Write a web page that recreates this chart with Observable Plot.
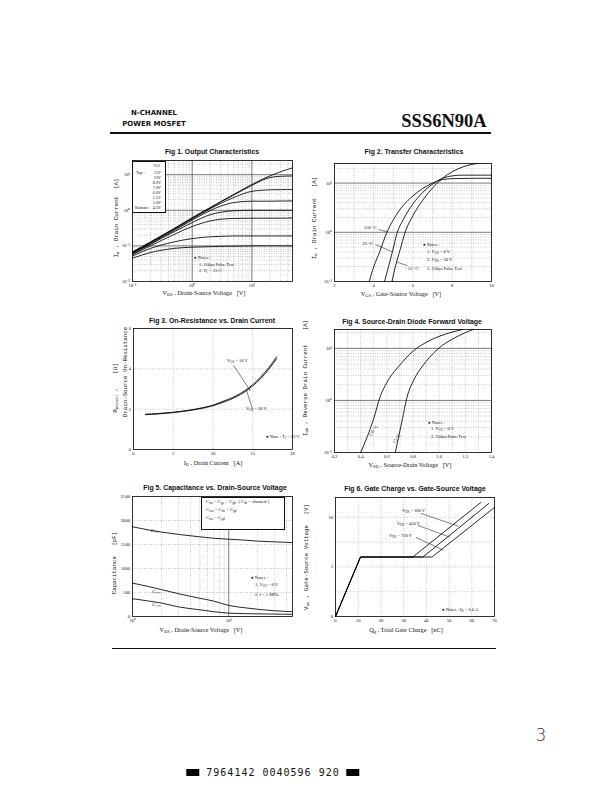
<!DOCTYPE html>
<html><head><meta charset="utf-8">
<script src="https://cdn.jsdelivr.net/npm/d3@7"></script>
<script src="https://cdn.jsdelivr.net/npm/@observablehq/plot@0.6"></script>
<style>
html,body{margin:0;padding:0;background:#fff;}
body{width:599px;height:801px;position:relative;overflow:hidden;color:#111;}
.t{position:absolute;white-space:nowrap;line-height:1;}
.title{font-family:"Liberation Sans",Arial,sans-serif;font-weight:bold;font-size:6.9px;}
.xl{font-family:"Liberation Serif",serif;font-size:6.3px;}
.yl{font-family:"Liberation Mono",monospace;font-size:5.8px;}
.note{font-family:"Liberation Serif",serif;font-size:4.5px;}
.leg{font-family:"Liberation Serif",serif;font-size:4.2px;}
.s{font-size:70%;vertical-align:-0.3em;}
.box{position:absolute;border:0.8px solid #111;background:#fff;}
.rule{position:absolute;background:#111;}
</style></head>
<body>
<script>
// ---------------- DATA ----------------
// Fig 1: Output characteristics (ID vs VDS per VGS)
const fig1Vds = [0.1, 0.2, 0.3, 0.5, 1, 2, 3, 5, 10, 20, 30, 48];
const fig1Vgs = ["15V", "10V", "8.0V", "7.0V", "6.0V", "5.5V", "5.0V", "4.5V"];
const fig1Id15 = [0.068, 0.13, 0.19, 0.31, 0.62, 1.2, 1.75, 2.8, 5.3, 9.2, 12, 15.5];
const fig1Id10 = [0.066, 0.125, 0.185, 0.3, 0.6, 1.15, 1.7, 2.7, 5.0, 8.3, 9.0, 9.2];
const fig1Id8 = [0.064, 0.12, 0.18, 0.29, 0.57, 1.1, 1.55, 2.3, 3.4, 3.75, 3.8, 3.8];
const fig1Id7 = [0.062, 0.115, 0.17, 0.27, 0.53, 0.98, 1.3, 1.65, 1.8, 1.8, 1.82, 1.83];
const fig1Id6 = [0.06, 0.11, 0.16, 0.25, 0.45, 0.75, 0.88, 0.97, 1.0, 1.0, 1.0, 1.0];
const fig1Id55 = [0.057, 0.1, 0.14, 0.21, 0.35, 0.5, 0.56, 0.59, 0.6, 0.6, 0.6, 0.61];
const fig1Id5 = [0.052, 0.085, 0.105, 0.13, 0.16, 0.18, 0.185, 0.19, 0.19, 0.19, 0.19, 0.19];
const fig1Id45 = [0.045, 0.065, 0.075, 0.085, 0.092, 0.095, 0.097, 0.098, 0.1, 0.1, 0.1, 0.1];
const fig1XTicks = [0.1, 1, 10];
const fig1YTicks = [0.01, 0.1, 1, 10];

// Fig 2: Transfer characteristics
const fig2Temps = ["150 °C", "25 °C", "- 55 °C"];
const fig2Vgs150 = [3.77, 4.0, 4.3, 4.67, 5.0, 5.5, 6.0, 6.5, 7.0, 7.5, 8.0, 9.0, 10];
const fig2Id150 = [0.1, 0.2, 0.4, 1, 1.8, 3.5, 5.5, 7.8, 10, 11.8, 12.3, 12.5, 12.5];
const fig2Vgs25 = [4.55, 4.75, 4.95, 5.2, 5.5, 6.0, 6.5, 7.0, 7.5, 8.0, 8.5, 10];
const fig2Id25 = [0.1, 0.2, 0.4, 1, 1.8, 3.8, 6.5, 9.5, 12.5, 14, 14.5, 14.5];
const fig2VgsM55 = [4.93, 5.1, 5.35, 5.6, 6.0, 6.5, 7.0, 7.5, 8.0, 8.5, 9.0, 9.3];
const fig2IdM55 = [0.1, 0.2, 0.45, 1, 2.2, 4.5, 8, 12.5, 17, 21, 24, 25];
const fig2XTicks = [2, 4, 6, 8, 10];
const fig2YTicks = [0.1, 1, 10];

// Fig 3: On-resistance vs drain current
const fig3Id = [1.5, 3, 5, 7, 9, 10, 11, 12, 13, 14, 15, 16, 17, 18];
const fig3R10 = [1.75, 1.78, 1.85, 1.95, 2.1, 2.2, 2.35, 2.5, 2.68, 2.92, 3.22, 3.6, 4.05, 4.6];
const fig3R20 = [1.73, 1.76, 1.83, 1.93, 2.07, 2.17, 2.3, 2.45, 2.63, 2.86, 3.15, 3.52, 3.97, 4.5];
const fig3XTicks = [0, 5, 10, 15, 20];
const fig3YTicks = [0, 2, 4, 6];

// Fig 4: Source-drain diode forward voltage
const fig4Vsd150 = [0.40, 0.45, 0.5, 0.55, 0.6, 0.7, 0.8, 0.9, 1.0, 1.1, 1.18];
const fig4Idr150 = [0.1, 0.2, 0.45, 1.2, 2.2, 4.8, 8.8, 13, 17, 20.5, 23];
const fig4Vsd25 = [0.665, 0.69, 0.72, 0.75, 0.8, 0.85, 0.9, 1.0, 1.1, 1.2, 1.26];
const fig4Idr25 = [0.1, 0.2, 0.45, 1.05, 2.3, 3.8, 5.6, 10.2, 15, 20, 23];
const fig4XTicks = [0.2, 0.4, 0.6, 0.8, 1.0, 1.2, 1.4];
const fig4YTicks = [0.1, 1, 10];

// Fig 5: Capacitance vs VDS
const fig5Vds = [1, 1.5, 2, 3, 5, 7, 10, 15, 20, 30, 45];
const fig5Ciss = [1870, 1800, 1760, 1710, 1660, 1630, 1610, 1590, 1570, 1555, 1540];
const fig5Coss = [695, 620, 560, 475, 380, 320, 230, 180, 150, 120, 100];
const fig5Crss = [370, 320, 280, 200, 140, 100, 70, 60, 55, 50, 45];
const fig5XTicks = [1, 10];
const fig5YTicks = [0, 500, 1000, 1500, 2000, 2500];

// Fig 6: Gate charge
const fig6Qg180 = [0, 11, 34, 64];
const fig6Vgs180 = [0, 6, 6, 11.5];
const fig6Qg450 = [0, 11, 38.5, 67.5];
const fig6Vgs450 = [0, 6, 6, 11.4];
const fig6Qg720 = [0, 11, 42.5, 70];
const fig6Vgs720 = [0, 6, 6, 11.0];
const fig6XTicks = [0, 10, 20, 30, 40, 50, 60, 70];
const fig6YTicks = [0, 5, 10];

// ---------------- HELPERS ----------------
const logMinor = [2, 3, 4, 5, 6, 7, 8, 9];
const supMap = {"-2": "⁻²", "-1": "⁻¹", "0": "⁰", "1": "¹", "2": "²"};
const pow10 = d => "10" + supMap[String(Math.round(Math.log10(d)))];
const minorsOf = (decades, max) => decades.flatMap(d => logMinor.map(m => m * d)).filter(v => v < max);

function txt(html, x, y, cls, anchor, rot) {
  const d = document.createElement("div");
  d.className = "t " + cls;
  d.innerHTML = html;
  d.style.left = x + "px"; d.style.top = y + "px";
  let tr = anchor === "c" ? "translate(-50%,-50%)" : anchor === "r" ? "translate(-100%,-50%)" : "translate(0,-50%)";
  if (rot) tr += " rotate(" + rot + "deg)";
  d.style.transform = tr;
  document.body.appendChild(d);
  return d;
}
function box(x, y, w, h) {
  const d = document.createElement("div");
  d.className = "box";
  Object.assign(d.style, {left: x + "px", top: y + "px", width: w + "px", height: h + "px"});
  document.body.appendChild(d);
}
function rule(x, y, w, h) {
  const d = document.createElement("div");
  d.className = "rule";
  Object.assign(d.style, {left: x + "px", top: y + "px", width: w + "px", height: h + "px"});
  document.body.appendChild(d);
}
const M = {l: 26, r: 4, t: 4, b: 12};
function chart(fr, opts) {
  const p = Plot.plot({
    width: fr[2] - fr[0] + M.l + M.r,
    height: fr[3] - fr[1] + M.t + M.b,
    marginLeft: M.l, marginRight: M.r, marginTop: M.t, marginBottom: M.b,
    style: {fontFamily: "Liberation Serif, serif", fontSize: "4.6px", background: "transparent", overflow: "visible", color: "#111"},
    ...opts
  });
  p.style.position = "absolute";
  p.style.left = (fr[0] - M.l) + "px";
  p.style.top = (fr[1] - M.t) + "px";
  document.body.appendChild(p);
  return p;
}
const solid = {stroke: "#222", strokeWidth: 0.6};
const dotted = {stroke: "#777", strokeWidth: 0.5, strokeDasharray: "0.8,1.6"};
const curve = {stroke: "#000", strokeWidth: 0.85, curve: "monotone-x"};
const axX = (ticks, fmt) => Plot.axisX({ticks, tickFormat: fmt, tickSize: 0, tickPadding: 2.5, label: null});
const axY = (ticks, fmt) => Plot.axisY({ticks, tickFormat: fmt, tickSize: 0, tickPadding: 2.5, label: null});

// ---------------- PAGE HEADER ----------------
txt("N-CHANNEL", 154, 113, "", "c").style.cssText += "font-family:'DejaVu Sans',sans-serif;font-weight:bold;font-size:7px;";
txt("POWER MOSFET", 154, 124, "", "c").style.cssText += "font-family:'DejaVu Sans',sans-serif;font-weight:bold;font-size:7px;";
txt("SSS6N90A", 444, 121, "", "c").style.cssText += "font-family:'Liberation Serif',serif;font-weight:bold;font-size:18.5px;";
rule(110, 132, 381, 1.6);

// ---------------- FIG 1 ----------------
{
  const fr = [132, 160, 292, 281];
  const curves = [fig1Id15, fig1Id10, fig1Id8, fig1Id7, fig1Id6, fig1Id55, fig1Id5, fig1Id45];
  const table = fig1Vgs.flatMap((g, i) => fig1Vds.map((v, j) => ({vgs: g, vds: v, id: curves[i][j]})));
  chart(fr, {
    x: {type: "log", domain: [0.1, 48]},
    y: {type: "log", domain: [0.01, 25]},
    marks: [
      Plot.ruleX(minorsOf([0.1, 1, 10], 48), dotted),
      Plot.ruleY(minorsOf([0.01, 0.1, 1, 10], 25), dotted),
      Plot.ruleX([1, 10], solid),
      Plot.ruleY([0.1, 1, 10], solid),
      Plot.line(table, {x: "vds", y: "id", z: "vgs", ...curve}),
      Plot.frame({stroke: "#000", strokeWidth: 0.8}),
      axX(fig1XTicks, pow10), axY(fig1YTicks, pow10)
    ]
  });
  box(132, 160.5, 31.5, 50.5);
  txt("V<span class=s>GS</span>", 160, 166, "leg", "r");
  txt("Top :", 136, 172.5, "leg", "l");
  const rowsY = [172.5, 177.5, 182.5, 187.5, 192.5, 197.5, 202.5, 208];
  fig1Vgs.forEach((g, i) => txt(g, 161, rowsY[i], "leg", "r"));
  txt("Bottom :", 135, 208, "leg", "l");
  txt("Fig 1.  Output Characteristics", 212, 152, "title", "c");
  txt("V<span class=s>DS</span> , Drain-Source Voltage &nbsp;&nbsp;[V]", 204, 294, "xl", "c");
  txt("I<span class=s>D</span> , Drain Current &nbsp;[A]", 117, 218, "yl", "c", -90);
  txt("● Notes :", 194, 258, "note", "l");
  txt("1. 250μs Pulse Test", 199, 265, "note", "l");
  txt("2. T<span class=s>C</span> = 25°C", 199, 272, "note", "l");
}

// ---------------- FIG 2 ----------------
{
  const fr = [334, 163, 491, 281];
  const series = [[fig2Vgs150, fig2Id150], [fig2Vgs25, fig2Id25], [fig2VgsM55, fig2IdM55]];
  const table = fig2Temps.flatMap((t, i) => series[i][0].map((v, j) => ({t, vgs: v, id: series[i][1][j]})));
  const labels = [
    {text: "150 °C", x: 3.83, y: 1.25, x1: 4.24, y1: 1.14, x2: 4.72, y2: 1.02},
    {text: "25 °C", x: 3.7, y: 0.59, x1: 4.09, y1: 0.56, x2: 4.95, y2: 0.4},
    {text: "- 55 °C", x: 5.95, y: 0.18, x1: 5.72, y1: 0.21, x2: 5.15, y2: 0.25}
  ];
  chart(fr, {
    x: {domain: [2, 10]},
    y: {type: "log", domain: [0.1, 25]},
    marks: [
      Plot.ruleX([3, 4, 5, 6, 7, 8, 9], dotted),
      Plot.ruleY(minorsOf([0.1, 1, 10], 25), dotted),
      Plot.ruleY([1, 10], solid),
      Plot.line(table, {x: "vgs", y: "id", z: "t", ...curve}),
      Plot.link(labels, {x1: "x1", y1: "y1", x2: "x2", y2: "y2", stroke: "#000", strokeWidth: 0.5}),
      Plot.text(labels, {x: "x", y: "y", text: "text", fontSize: 4.6}),
      Plot.frame({stroke: "#000", strokeWidth: 0.8}),
      axX(fig2XTicks, d => String(d)), axY(fig2YTicks, pow10)
    ]
  });
  txt("Fig 2.  Transfer Characteristics", 414, 152, "title", "c");
  txt("V<span class=s>GS</span> , Gate-Source Voltage &nbsp;&nbsp;[V]", 401, 295, "xl", "c");
  txt("I<span class=s>D</span> , Drain Current &nbsp;&nbsp;[A]", 315, 218, "yl", "c", -90);
  txt("● Notes :", 423, 245, "note", "l");
  txt("1. V<span class=s>GS</span> = 0 V", 427, 253, "note", "l");
  txt("2. V<span class=s>DS</span> = 50 V", 427, 261, "note", "l");
  txt("3. 250μs Pulse Test", 427, 269, "note", "l");
}

// ---------------- FIG 3 ----------------
{
  const fr = [133, 328, 292, 449];
  const table = [
    ...fig3Id.map((d, i) => ({s: "10", id: d, r: fig3R10[i]})),
    ...fig3Id.map((d, i) => ({s: "20", id: d, r: fig3R20[i]}))
  ];
  const arrows = [
    {x1: 12.6, y1: 4.17, x2: 14.7, y2: 2.9},
    {x1: 14.95, y1: 2.02, x2: 14.2, y2: 2.95}
  ];
  chart(fr, {
    x: {domain: [0, 20]},
    y: {domain: [0, 6]},
    marks: [
      Plot.ruleX([5, 10, 15], dotted),
      Plot.ruleY([2, 4], dotted),
      Plot.line(table, {x: "id", y: "r", z: "s", ...curve}),
      Plot.link(arrows, {x1: "x1", y1: "y1", x2: "x2", y2: "y2", stroke: "#000", strokeWidth: 0.5}),
      Plot.frame({stroke: "#000", strokeWidth: 0.8}),
      axX(fig3XTicks, d => String(d)), axY(fig3YTicks, d => String(d))
    ]
  });
  txt("Fig 3.  On-Resistance vs. Drain Current", 212, 321, "title", "c");
  txt("I<span class=s>D</span> , Drain Current &nbsp;&nbsp;[A]", 213, 464, "xl", "c");
  txt("R<span class=s>DS(on)</span> , &nbsp;&nbsp;&nbsp;[Ω]", 116, 388, "yl", "c", -90);
  txt("Drain-Source On-Resistance", 126, 372, "yl", "c", -90);
  txt("V<span class=s>GS</span> = 10 V", 227, 362, "note", "l");
  txt("V<span class=s>GS</span> = 20 V", 246, 410, "note", "l");
  txt("● Note : T<span class=s>J</span> = 25°C", 266, 438, "note", "l");
}

// ---------------- FIG 4 ----------------
{
  const fr = [334, 329, 491, 452];
  const table = [
    ...fig4Vsd150.map((v, i) => ({t: "150", v, i: fig4Idr150[i]})),
    ...fig4Vsd25.map((v, i) => ({t: "25", v, i: fig4Idr25[i]}))
  ];
  chart(fr, {
    x: {domain: [0.2, 1.4]},
    y: {type: "log", domain: [0.1, 23]},
    marks: [
      Plot.ruleX([0.3, 0.4, 0.5, 0.6, 0.7, 0.8, 0.9, 1.0, 1.1, 1.2, 1.3], dotted),
      Plot.ruleY(minorsOf([0.1, 1, 10], 23), dotted),
      Plot.ruleY([1, 10], solid),
      Plot.line(table, {x: "v", y: "i", z: "t", ...curve}),
      Plot.frame({stroke: "#000", strokeWidth: 0.8}),
      axX(fig4XTicks, d => d.toFixed(1)), axY(fig4YTicks, pow10)
    ]
  });
  txt("Fig 4.  Source-Drain Diode Forward Voltage", 412, 322, "title", "c");
  txt("V<span class=s>SD</span> , Source-Drain Voltage &nbsp;&nbsp;[V]", 410, 466, "xl", "c");
  txt("I<span class=s>DR</span> , Reverse Drain Current &nbsp;&nbsp;&nbsp;[A]", 306, 378, "yl", "c", -90);
  txt("150 °C", 374, 431, "note", "c", -55);
  txt("25 °C", 397, 439, "note", "c", -55);
  txt("● Notes :", 428, 423, "note", "l");
  txt("1. V<span class=s>GS</span> = 0 V", 431, 430, "note", "l");
  txt("2. 250μs Pulse Test", 431, 437, "note", "l");
}

// ---------------- FIG 5 ----------------
{
  const fr = [132, 496, 292, 616];
  const table = [
    ...fig5Vds.map((v, i) => ({c: "iss", v, cap: fig5Ciss[i]})),
    ...fig5Vds.map((v, i) => ({c: "oss", v, cap: fig5Coss[i]})),
    ...fig5Vds.map((v, i) => ({c: "rss", v, cap: fig5Crss[i]}))
  ];
  const lbl = [
    {t: "C", sub: "iss", x: 1.55, y: 1790},
    {t: "C", sub: "oss", x: 1.6, y: 520},
    {t: "C", sub: "rss", x: 1.6, y: 250}
  ];
  chart(fr, {
    x: {type: "log", domain: [1, 46]},
    y: {domain: [0, 2500]},
    marks: [
      Plot.ruleX(minorsOf([1, 10], 46), dotted),
      Plot.ruleY([500, 1000, 1500, 2000], dotted),
      Plot.ruleX([10], solid),
      Plot.line(table, {x: "v", y: "cap", z: "c", ...curve}),
      Plot.text(lbl, {x: "x", y: "y", text: d => d.t + d.sub.replace("iss", "ᵢₛₛ").replace("oss", "ₒₛₛ").replace("rss", "ᵣₛₛ"), textAnchor: "start", fontSize: 5}),
      Plot.frame({stroke: "#000", strokeWidth: 0.8}),
      axX(fig5XTicks, pow10), axY(fig5YTicks, d => String(d))
    ]
  });
  box(201, 496.5, 82, 31.5);
  txt("C<span class=s>iss</span> = C<span class=s>gs</span> + C<span class=s>gd</span> &nbsp;( C<span class=s>ds</span> = shorted )", 206, 503, "note", "l").style.fontSize = "4.8px";
  txt("C<span class=s>oss</span> = C<span class=s>ds</span> + C<span class=s>gd</span>", 206, 511, "note", "l").style.fontSize = "4.8px";
  txt("C<span class=s>rss</span> = C<span class=s>gd</span>", 206, 519, "note", "l").style.fontSize = "4.8px";
  txt("Fig 5.  Capacitance vs. Drain-Source Voltage", 215, 488, "title", "c");
  txt("V<span class=s>DS</span> , Drain-Source Voltage &nbsp;&nbsp;[V]", 201, 631, "xl", "c");
  txt("Capacitance &nbsp;&nbsp;[pF]", 115, 563, "yl", "c", -90);
  txt("● Notes :", 251, 578, "note", "l");
  txt("1. V<span class=s>GS</span> = 0 V", 255, 586, "note", "l");
  txt("2. f = 1 MHz", 255, 595, "note", "l");
}

// ---------------- FIG 6 ----------------
{
  const fr = [335, 497, 494, 616];
  const table = [
    ...fig6Qg180.map((q, i) => ({s: "180", q, v: fig6Vgs180[i]})),
    ...fig6Qg450.map((q, i) => ({s: "450", q, v: fig6Vgs450[i]})),
    ...fig6Qg720.map((q, i) => ({s: "720", q, v: fig6Vgs720[i]}))
  ];
  const arrows = [
    {x1: 37.6, y1: 10.4, x2: 54.2, y2: 9.1},
    {x1: 36.4, y1: 9.18, x2: 50.3, y2: 8.0},
    {x1: 35.4, y1: 7.97, x2: 47.4, y2: 6.7}
  ];
  chart(fr, {
    x: {domain: [0, 70]},
    y: {domain: [0, 12]},
    marks: [
      Plot.ruleX([10, 20, 30, 40, 50, 60], dotted),
      Plot.ruleY([2.5, 5, 7.5, 10], dotted),
      Plot.line(table, {x: "q", y: "v", z: "s", stroke: "#000", strokeWidth: 0.85}),
      Plot.link(arrows, {x1: "x1", y1: "y1", x2: "x2", y2: "y2", stroke: "#000", strokeWidth: 0.5}),
      Plot.frame({stroke: "#000", strokeWidth: 0.8}),
      axX(fig6XTicks, d => String(d)), axY(fig6YTicks, d => String(d))
    ]
  });
  txt("Fig 6.  Gate Charge vs. Gate-Source Voltage", 415, 489, "title", "c");
  txt("Q<span class=s>g</span> , Total Gate Charge &nbsp;&nbsp;[nC]", 406, 631, "xl", "c");
  txt("V<span class=s>GS</span> , Gate-Source Voltage &nbsp;&nbsp;[V]", 307, 557, "yl", "c", -90);
  txt("V<span class=s>DS</span> = 180 V", 402, 512, "note", "l");
  txt("V<span class=s>DS</span> = 450 V", 397, 525, "note", "l");
  txt("V<span class=s>DS</span> = 720 V", 389, 537, "note", "l");
  txt("● Notes : I<span class=s>D</span> = 6.0 A", 442, 611, "note", "l");
}

// ---------------- FOOTER ----------------
rule(112, 648, 384, 1.4);
txt("3", 541, 735, "", "c").style.cssText += "font-family:'DejaVu Sans',sans-serif;font-weight:300;font-size:17px;color:#333;";
{
  const blk = "<span style='display:inline-block;width:13px;height:7px;background:#000;vertical-align:0px'></span>";
  const f = txt(blk + "&nbsp;7964142 0040596 920&nbsp;" + blk, 273, 773, "", "c");
  f.style.fontFamily = "'DejaVu Sans Mono',monospace";
  f.style.fontSize = "10px";
  f.style.letterSpacing = "1px";
}
</script>
</body></html>
